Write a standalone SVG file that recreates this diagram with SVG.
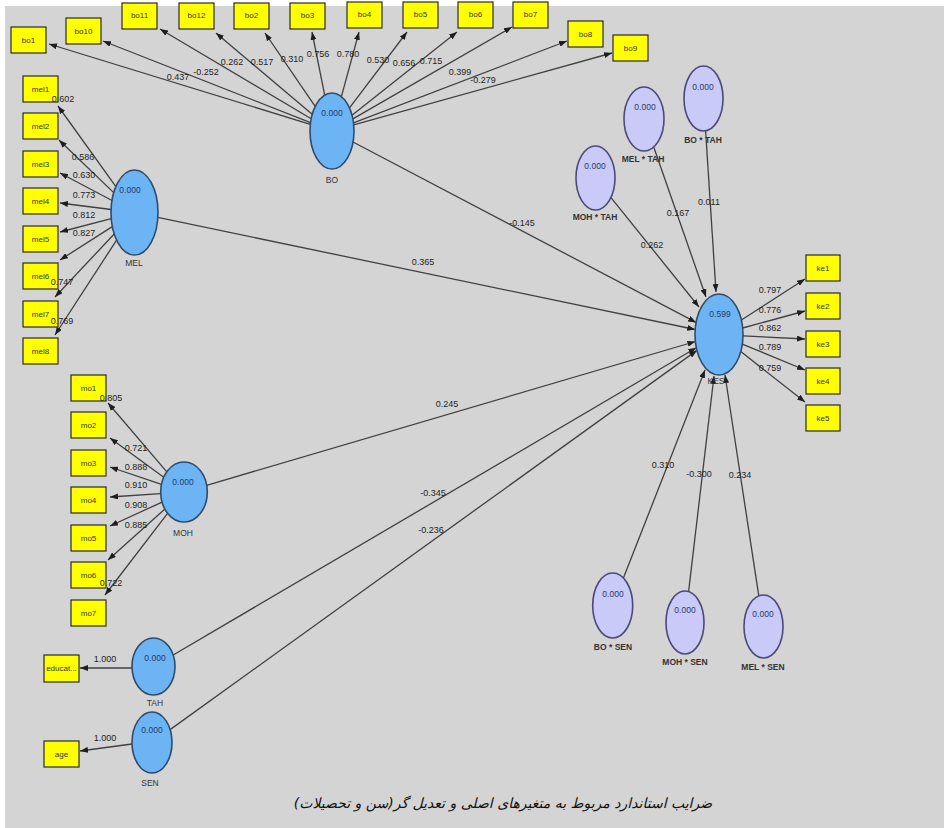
<svg xmlns="http://www.w3.org/2000/svg" width="944" height="828" viewBox="0 0 944 828">
<defs>
<marker id="ah" markerUnits="userSpaceOnUse" markerWidth="8" markerHeight="6" refX="8" refY="3" orient="auto">
<path d="M0,0 L8,3 L0,6 z" fill="#1e1e1e"/>
</marker>
<style>
.bg{fill:#d4d4d4}
.box{fill:#ffff00;stroke:#2a2a2a;stroke-width:1.2}
.bt{font-family:"Liberation Sans Narrow","Liberation Sans",Arial,sans-serif;font-size:8px;fill:#333;text-anchor:middle}
.lat{fill:#6cb4f4;stroke:#2f4c6c;stroke-width:1.6}
.mod{fill:#cacaf8;stroke:#4a4a78;stroke-width:1.6}
.val{font-family:"Liberation Sans Narrow","Liberation Sans",Arial,sans-serif;font-size:8.5px;fill:#2a3a6a;text-anchor:middle}
.nl{font-family:"Liberation Sans Narrow","Liberation Sans",Arial,sans-serif;font-size:8.5px;fill:#333;text-anchor:middle}
.ml{font-family:"Liberation Sans Narrow","Liberation Sans",Arial,sans-serif;font-size:8.5px;font-weight:bold;fill:#333;text-anchor:middle}
.c line{stroke:#404040;stroke-width:1.3;marker-end:url(#ah)}
.lb{font-family:"Liberation Sans Narrow","Liberation Sans",Arial,sans-serif;font-size:9px;fill:#1e1e1e;text-anchor:middle}
.cap{font-family:"DejaVu Sans",sans-serif;font-size:14px;font-style:italic;fill:#111;text-anchor:middle}
</style>
</defs>
<rect x="0" y="0" width="944" height="828" fill="#ffffff"/>
<rect class="bg" x="5" y="6" width="939" height="822"/>

<g id="connectors" class="c">
<line x1="310.3" y1="124.3" x2="49" y2="44"/>
<line x1="310.5" y1="122.6" x2="103" y2="41"/>
<line x1="311.2" y1="118.7" x2="160" y2="29"/>
<line x1="312.2" y1="114.3" x2="216" y2="33"/>
<line x1="315.2" y1="106.4" x2="265" y2="33"/>
<line x1="324.7" y1="95.1" x2="312" y2="32"/>
<line x1="341.4" y1="96.6" x2="359" y2="32"/>
<line x1="349.5" y1="107.9" x2="407" y2="32"/>
<line x1="352" y1="115.2" x2="457" y2="32"/>
<line x1="352.9" y1="118.9" x2="512" y2="27"/>
<line x1="353.5" y1="122.8" x2="567" y2="41"/>
<line x1="353.7" y1="124.9" x2="612" y2="53"/>
<line x1="115.9" y1="186.6" x2="58" y2="106"/>
<line x1="113.7" y1="192.6" x2="59" y2="140"/>
<line x1="112" y1="200.5" x2="60" y2="173"/>
<line x1="111.1" y1="209.5" x2="60" y2="203"/>
<line x1="111.2" y1="218.6" x2="60" y2="232"/>
<line x1="112.3" y1="226.6" x2="60" y2="260"/>
<line x1="114.2" y1="234" x2="55" y2="297"/>
<line x1="116.6" y1="240.1" x2="55" y2="335"/>
<line x1="166.8" y1="471.8" x2="108" y2="403"/>
<line x1="163.7" y1="477.2" x2="110" y2="438"/>
<line x1="161.5" y1="484.4" x2="110" y2="467"/>
<line x1="160.7" y1="493.6" x2="110" y2="497"/>
<line x1="162.1" y1="502.1" x2="110" y2="526"/>
<line x1="164.9" y1="509.1" x2="108" y2="560"/>
<line x1="167.6" y1="513.3" x2="105" y2="595"/>
<line x1="132" y1="668" x2="80" y2="668"/>
<line x1="132" y1="744" x2="80" y2="751"/>
<line x1="741.4" y1="320" x2="805" y2="279"/>
<line x1="742.7" y1="328" x2="805" y2="311"/>
<line x1="743" y1="335.8" x2="805" y2="339"/>
<line x1="742.3" y1="344.1" x2="805" y2="370"/>
<line x1="740.8" y1="351.6" x2="805" y2="402"/>
<line x1="353" y1="142" x2="696.1" y2="322.4"/>
<line x1="157.8" y1="217.4" x2="695.2" y2="329.5"/>
<line x1="206.7" y1="485.3" x2="695.4" y2="341.5"/>
<line x1="173.2" y1="655" x2="696.3" y2="347.8"/>
<line x1="170.1" y1="729.6" x2="696.9" y2="350.4"/>
<line x1="611" y1="197.6" x2="699" y2="307"/>
<line x1="653.7" y1="147" x2="706" y2="297"/>
<line x1="705.6" y1="130.8" x2="716" y2="292"/>
<line x1="623.4" y1="578.1" x2="705" y2="370"/>
<line x1="688.6" y1="591.6" x2="714" y2="376"/>
<line x1="758.8" y1="595.9" x2="725" y2="375"/>
</g>

<g id="bo1"><rect class="box" x="11" y="27" width="35" height="26"/><text class="bt" x="28.5" y="43">bo1</text></g>
<g id="bo10"><rect class="box" x="66" y="18" width="35" height="26"/><text class="bt" x="83.5" y="34">bo10</text></g>
<g id="bo11"><rect class="box" x="122" y="3" width="35" height="26"/><text class="bt" x="139.5" y="18">bo11</text></g>
<g id="bo12"><rect class="box" x="179" y="3" width="35" height="26"/><text class="bt" x="196.5" y="18">bo12</text></g>
<g id="bo2"><rect class="box" x="234" y="3" width="35" height="26"/><text class="bt" x="251.5" y="18">bo2</text></g>
<g id="bo3"><rect class="box" x="290" y="3" width="35" height="26"/><text class="bt" x="307.5" y="18">bo3</text></g>
<g id="bo4"><rect class="box" x="347" y="2" width="35" height="26"/><text class="bt" x="364.5" y="17">bo4</text></g>
<g id="bo5"><rect class="box" x="403" y="2" width="35" height="26"/><text class="bt" x="420.5" y="17">bo5</text></g>
<g id="bo6"><rect class="box" x="458" y="2" width="35" height="26"/><text class="bt" x="475.5" y="17">bo6</text></g>
<g id="bo7"><rect class="box" x="513" y="2" width="35" height="26"/><text class="bt" x="530.5" y="17">bo7</text></g>
<g id="bo8"><rect class="box" x="568" y="21" width="35" height="26"/><text class="bt" x="585.5" y="37">bo8</text></g>
<g id="bo9"><rect class="box" x="613" y="35" width="35" height="26"/><text class="bt" x="630.5" y="51">bo9</text></g>

<g id="mel1"><rect class="box" x="23" y="76" width="35" height="26"/><text class="bt" x="40.5" y="92">mel1</text></g>
<g id="mel2"><rect class="box" x="23" y="113" width="35" height="26"/><text class="bt" x="40.5" y="129">mel2</text></g>
<g id="mel3"><rect class="box" x="23" y="151" width="35" height="26"/><text class="bt" x="40.5" y="167">mel3</text></g>
<g id="mel4"><rect class="box" x="23" y="188" width="35" height="26"/><text class="bt" x="40.5" y="204">mel4</text></g>
<g id="mel5"><rect class="box" x="23" y="226" width="35" height="26"/><text class="bt" x="40.5" y="242">mel5</text></g>
<g id="mel6"><rect class="box" x="23" y="263" width="35" height="26"/><text class="bt" x="40.5" y="279">mel6</text></g>
<g id="mel7"><rect class="box" x="23" y="301" width="35" height="26"/><text class="bt" x="40.5" y="317">mel7</text></g>
<g id="mel8"><rect class="box" x="23" y="338" width="35" height="26"/><text class="bt" x="40.5" y="354">mel8</text></g>

<g id="mo1"><rect class="box" x="71" y="375" width="35" height="26"/><text class="bt" x="88.5" y="391">mo1</text></g>
<g id="mo2"><rect class="box" x="71" y="412" width="35" height="26"/><text class="bt" x="88.5" y="428">mo2</text></g>
<g id="mo3"><rect class="box" x="71" y="450" width="35" height="26"/><text class="bt" x="88.5" y="466">mo3</text></g>
<g id="mo4"><rect class="box" x="71" y="487" width="35" height="26"/><text class="bt" x="88.5" y="503">mo4</text></g>
<g id="mo5"><rect class="box" x="71" y="525" width="35" height="26"/><text class="bt" x="88.5" y="541">mo5</text></g>
<g id="mo6"><rect class="box" x="71" y="562" width="35" height="26"/><text class="bt" x="88.5" y="578">mo6</text></g>
<g id="mo7"><rect class="box" x="71" y="600" width="35" height="26"/><text class="bt" x="88.5" y="616">mo7</text></g>

<g id="educat"><rect class="box" x="44" y="655" width="35" height="27"/><text class="bt" x="61.5" y="671">educat...</text></g>
<g id="age"><rect class="box" x="44" y="741" width="35" height="26"/><text class="bt" x="61.5" y="757">age</text></g>

<g id="ke1"><rect class="box" x="806" y="255" width="34" height="26"/><text class="bt" x="823" y="271">ke1</text></g>
<g id="ke2"><rect class="box" x="806" y="293" width="34" height="26"/><text class="bt" x="823" y="309">ke2</text></g>
<g id="ke3"><rect class="box" x="806" y="331" width="34" height="26"/><text class="bt" x="823" y="347">ke3</text></g>
<g id="ke4"><rect class="box" x="806" y="368" width="34" height="26"/><text class="bt" x="823" y="384">ke4</text></g>
<g id="ke5"><rect class="box" x="806" y="405" width="34" height="26"/><text class="bt" x="823" y="421">ke5</text></g>

<g id="BO"><ellipse class="lat" cx="332" cy="131" rx="22" ry="38"/><text class="val" x="332" y="116">0.000</text><text class="nl" x="332" y="183">BO</text></g>
<g id="MEL"><ellipse class="lat" cx="134.5" cy="212.5" rx="23.5" ry="42.5"/><text class="val" x="130" y="193">0.000</text><text class="nl" x="134" y="266">MEL</text></g>
<g id="MOH"><ellipse class="lat" cx="184" cy="492" rx="23.3" ry="30"/><text class="val" x="183" y="485">0.000</text><text class="nl" x="183" y="536">MOH</text></g>
<g id="TAH"><ellipse class="lat" cx="153.5" cy="666.5" rx="21.5" ry="28.5"/><text class="val" x="155" y="661">0.000</text><text class="nl" x="155" y="706">TAH</text></g>
<g id="SEN"><ellipse class="lat" cx="152" cy="742.5" rx="20" ry="30.5"/><text class="val" x="152" y="733">0.000</text><text class="nl" x="150" y="786">SEN</text></g>
<g id="KES"><ellipse class="lat" cx="719" cy="334.5" rx="24" ry="40.5"/><text class="val" x="720" y="317">0.599</text><text class="nl" x="716" y="384">KES</text></g>

<g id="MEL-TAH"><ellipse class="mod" cx="644" cy="119" rx="20" ry="32"/><text class="val" x="645" y="110">0.000</text><text class="ml" x="643" y="162">MEL * TAH</text></g>
<g id="BO-TAH"><ellipse class="mod" cx="703.5" cy="98.5" rx="19.5" ry="32.5"/><text class="val" x="703" y="90">0.000</text><text class="ml" x="703" y="143">BO * TAH</text></g>
<g id="MOH-TAH"><ellipse class="mod" cx="595.5" cy="178" rx="19.5" ry="32"/><text class="val" x="595" y="169">0.000</text><text class="ml" x="595" y="220">MOH * TAH</text></g>
<g id="BO-SEN"><ellipse class="mod" cx="612.7" cy="605.5" rx="20" ry="32.5"/><text class="val" x="613" y="597">0.000</text><text class="ml" x="613" y="650">BO * SEN</text></g>
<g id="MOH-SEN"><ellipse class="mod" cx="685" cy="622.5" rx="19" ry="31.5"/><text class="val" x="685" y="613">0.000</text><text class="ml" x="685" y="665">MOH * SEN</text></g>
<g id="MEL-SEN"><ellipse class="mod" cx="763.5" cy="626.5" rx="19.5" ry="31.5"/><text class="val" x="763" y="617">0.000</text><text class="ml" x="763" y="670">MEL * SEN</text></g>

<g id="path-labels">
<text class="lb" x="178" y="80">0.437</text>
<text class="lb" x="206" y="75">-0.252</text>
<text class="lb" x="232" y="65">0.262</text>
<text class="lb" x="262" y="65">0.517</text>
<text class="lb" x="292" y="62">0.310</text>
<text class="lb" x="318" y="57">0.756</text>
<text class="lb" x="348" y="57">0.780</text>
<text class="lb" x="378" y="63">0.530</text>
<text class="lb" x="404" y="66">0.656</text>
<text class="lb" x="431" y="64">0.715</text>
<text class="lb" x="460" y="75">0.399</text>
<text class="lb" x="483" y="83">-0.279</text>
<text class="lb" x="63" y="102">0.602</text>
<text class="lb" x="83" y="160">0.586</text>
<text class="lb" x="84" y="178">0.630</text>
<text class="lb" x="84" y="198">0.773</text>
<text class="lb" x="84" y="218">0.812</text>
<text class="lb" x="84" y="236">0.827</text>
<text class="lb" x="62" y="285">0.747</text>
<text class="lb" x="62" y="324">0.769</text>
<text class="lb" x="111" y="401">0.805</text>
<text class="lb" x="136" y="451">0.721</text>
<text class="lb" x="136" y="470">0.888</text>
<text class="lb" x="136" y="488">0.910</text>
<text class="lb" x="136" y="508">0.908</text>
<text class="lb" x="136" y="528">0.885</text>
<text class="lb" x="111" y="586">0.722</text>
<text class="lb" x="770" y="293">0.797</text>
<text class="lb" x="770" y="313">0.776</text>
<text class="lb" x="770" y="331">0.862</text>
<text class="lb" x="770" y="350">0.789</text>
<text class="lb" x="770" y="371">0.759</text>
<text class="lb" x="522" y="226">-0.145</text>
<text class="lb" x="423" y="265">0.365</text>
<text class="lb" x="447" y="407">0.245</text>
<text class="lb" x="433" y="496">-0.345</text>
<text class="lb" x="431" y="533">-0.236</text>
<text class="lb" x="652" y="248">0.262</text>
<text class="lb" x="678" y="216">0.167</text>
<text class="lb" x="709" y="205">0.011</text>
<text class="lb" x="663" y="468">0.310</text>
<text class="lb" x="699" y="477">-0.300</text>
<text class="lb" x="740" y="478">0.234</text>
<text class="lb" x="105" y="662">1.000</text>
<text class="lb" x="105" y="741">1.000</text>
</g>

<text class="cap" x="503" y="808" direction="rtl">ضرایب استاندارد مربوط به متغیرهای اصلی و تعدیل گر(سن و تحصیلات)</text>
</svg>
